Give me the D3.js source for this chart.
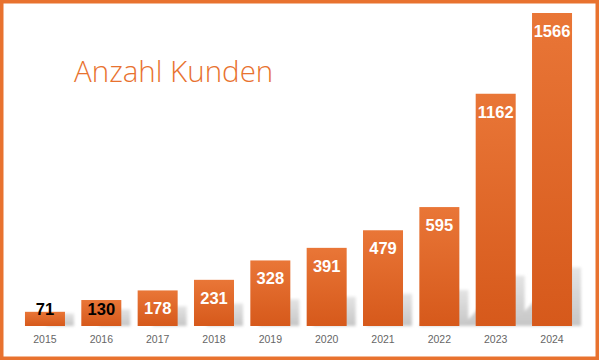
<!DOCTYPE html>
<html>
<head>
<meta charset="utf-8">
<script src="https://cdn.jsdelivr.net/npm/d3@7"></script>
<style>
  html, body { margin: 0; padding: 0; background: #fff; }
  svg { display: block; }
</style>
</head>
<body>
<div id="chart"></div>
<script>
// Anzahl Kunden per year
const years = ['2015', '2016', '2017', '2018', '2019', '2020', '2021', '2022', '2023', '2024'];
const customers = [71, 130, 178, 231, 328, 391, 479, 595, 1162, 1566];
const chartTitle = 'Anzahl Kunden';

const width = 599, height = 360;
const orange = '#e8722f';
const baseY = 326;

const svg = d3.select('#chart').append('svg')
    .attr('width', width)
    .attr('height', height);

const defs = svg.append('defs');

// bar gradient, lighter at the top
const barGrad = defs.append('linearGradient')
    .attr('id', 'barGrad')
    .attr('x1', 0).attr('y1', 0).attr('x2', 0).attr('y2', 1);
barGrad.append('stop').attr('offset', '0%').attr('stop-color', '#e97637');
barGrad.append('stop').attr('offset', '100%').attr('stop-color', '#d6591b');

const shadowGrad = defs.append('linearGradient')
    .attr('id', 'shadowGrad')
    .attr('x1', 0).attr('y1', 0).attr('x2', 0).attr('y2', 1);
shadowGrad.append('stop').attr('offset', '0%').attr('stop-color', '#e4e4e4');
shadowGrad.append('stop').attr('offset', '100%').attr('stop-color', '#c6c6c6');

defs.append('filter')
    .attr('id', 'blur')
    .attr('x', '-20%').attr('y', '-20%').attr('width', '140%').attr('height', '140%')
    .append('feGaussianBlur')
    .attr('stdDeviation', 1.6);

const x = d3.scaleBand()
    .domain(years)
    .range([16.8, 580.2])
    .paddingInner(0.29)
    .paddingOuter(0.145);

const y = d3.scaleLinear()
    .domain([0, d3.max(customers)])
    .range([baseY, 13]);

const data = years.map((yr, i) => ({ year: yr, value: customers[i] }));

// soft shadow behind the bars
svg.append('g')
    .attr('filter', 'url(#blur)')
    .selectAll('polygon')
    .data(data)
    .enter()
    .append('polygon')
    .attr('fill', 'url(#shadowGrad)')
    .attr('points', d => {
        const x0 = x(d.year), x1 = x0 + x.bandwidth();
        const h = baseY - y(d.value);
        const sh = Math.min(3.3 * Math.sqrt(h), 62);
        return [
            [x0, baseY],
            [x1 + 9, baseY],
            [x1 + 9, baseY - sh],
            [x1 - 8, baseY - sh],
            [x1 - 8 - sh * 0.9, baseY]
        ].map(p => p.join(',')).join(' ');
    });

// bars
svg.append('g')
    .selectAll('rect')
    .data(data)
    .enter()
    .append('rect')
    .attr('x', d => x(d.year))
    .attr('y', d => y(d.value))
    .attr('width', x.bandwidth())
    .attr('height', d => baseY - y(d.value))
    .attr('fill', 'url(#barGrad)');

// value labels
svg.append('g')
    .selectAll('text')
    .data(data)
    .enter()
    .append('text')
    .attr('x', d => x(d.year) + x.bandwidth() / 2)
    .attr('y', d => Math.min(y(d.value) + 24, 315))
    .attr('text-anchor', 'middle')
    .style('font-family', '"Liberation Sans", Arial, sans-serif')
    .style('font-weight', 'bold')
    .style('font-size', '16.5px')
    .attr('fill', d => (baseY - y(d.value)) < 30 ? '#000' : '#fff')
    .text(d => d.value);

// year labels
svg.append('g')
    .selectAll('text')
    .data(data)
    .enter()
    .append('text')
    .attr('x', d => x(d.year) + x.bandwidth() / 2)
    .attr('y', 343)
    .attr('text-anchor', 'middle')
    .style('font-family', '"Liberation Sans", Arial, sans-serif')
    .style('font-size', '10.5px')
    .attr('fill', '#666')
    .text(d => d.year);

// title
svg.append('text')
    .attr('x', 74)
    .attr('y', 82)
    .style('font-family', '"Open Sans", "Noto Sans", sans-serif')
    .style('font-weight', 300)
    .style('font-size', '29.5px')
    .attr('fill', orange)
    .text(chartTitle);

// frame
svg.append('rect')
    .attr('x', 1.75)
    .attr('y', 1.75)
    .attr('width', width - 3.5)
    .attr('height', height - 3.5)
    .attr('fill', 'none')
    .attr('stroke', orange)
    .attr('stroke-width', 3.5);
</script>
</body>
</html>
